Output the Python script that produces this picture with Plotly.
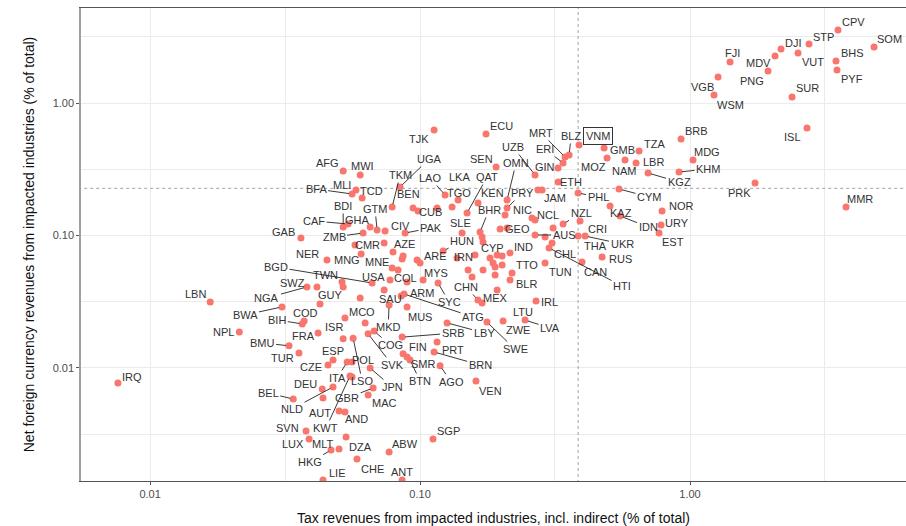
import numpy as np
import plotly.graph_objects as go

# ---- data: labelled countries ----
codes = ["CPV","STP","SOM","DJI","MDV","VUT","BHS","PYF","FJI","PNG","VGB","WSM","SUR","ISL","BRB","TZA","LBR","MDG","KHM","KGZ",
         "PRK","MMR","NOR","URY","EST","GMB","MOZ","NAM","VNM","BLZ","MRT","ERI","GIN","TJK","ECU","SEN","UZB","OMN","KEN","PRY",
         "NIC","BHR","QAT","LAO","LKA","TGO","UGA","TKM","BEN","CUB","MWI","AFG","MLI","BFA","TCD","GTM","GHA","CIV","BDI","CAF",
         "GAB","ZMB","PAK","SLE","CMR","AZE","HUN","ARE","IRN","CYP","IND","TTO","TUN","BLR","NCL","GEO","JAM","ETH","PHL","CYM",
         "KAZ","IDN","NZL","AUS","CRI","THA","UKR","CHL","RUS","CAN","HTI","USA","TWN","BGD","COL","MYS","SYC","ARM","CHN","MEX",
         "LTU","IRL","SAU","MKD","MUS","ATG","LVA","ZWE","SWE","LBY","SRB","MCO","COG","SVK","FIN","PRT","BRN","SMR","BTN","AGO",
         "VEN","POL","LSO","JPN","ITA","KWT","GBR","MAC","AND","DZA","CHE","SGP","ABW","ANT","LIE","HKG","MLT","LUX","SVN","AUT",
         "NLD","BEL","DEU","CZE","ESP","TUR","BMU","FRA","ISR","NPL","BIH","COD","GUY","BWA","LBN","NGA","SWZ","MNG","MNE","NER","IRQ"]

tax = [3.533,2.759,4.804,2.173,2.065,2.512,3.473,3.503,1.407,1.945,1.270,1.227,2.387,2.712,0.9262,0.6474,0.6310,1.026,0.9106,0.6990,
       1.741,3.783,0.7877,0.7810,0.7678,0.4804,0.4928,0.5745,0.3881,0.3565,0.3444,0.3386,0.3245,0.1127,0.1755,0.1912,0.2666,0.2100,0.1639,0.2100,
       0.2064,0.1668,0.1493,0.1238,0.1383,0.1314,0.0843,0.0788,0.0942,0.0983,0.0600,0.0519,0.0579,0.0560,0.0610,0.0693,0.0653,0.0742,0.0519,0.0541,
       0.0362,0.0615,0.0880,0.1431,0.0736,0.0794,0.1217,0.0975,0.1598,0.1711,0.2154,0.2191,0.2904,0.2154,0.2666,0.1979,0.2831,0.3245,0.3848,0.5458,
       0.5055,0.5505,0.3386,0.2666,0.3914,0.3848,0.4084,0.3083,0.4722,0.3981,0.3005,0.0736,0.0514,0.0664,0.0774,0.1026,0.1166,0.0895,0.1639,0.1697,
       0.1929,0.2689,0.0851,0.0768,0.0895,0.0872,0.2448,0.2030,0.1770,0.1259,0.0858,0.0527,0.0676,0.0642,0.0865,0.1156,0.1127,0.0895,0.0918,0.1186,
       0.1611,0.0560,0.0565,0.0653,0.0537,0.0550,0.0670,0.0642,0.0527,0.0532,0.0584,0.1117,0.0768,0.0858,0.0437,0.0468,0.0501,0.0388,0.0378,0.0501,
       0.0476,0.0339,0.0434,0.0456,0.0476,0.0356,0.0327,0.0419,0.0519,0.0214,0.0366,0.0372,0.0426,0.0308,0.0167,0.0381,0.0415,0.0605,0.0788,0.0452,0.0076]

fx = [3.555,2.788,2.646,2.556,2.263,2.385,2.075,1.775,2.039,1.744,1.571,1.149,1.110,0.6477,0.5351,0.4343,0.3525,0.3713,0.3014,0.2962,
      0.2490,0.1641,0.1531,0.1200,0.1044,0.4575,0.3845,0.3713,0.4819,0.4050,0.3913,0.3525,0.3232,0.6256,0.5834,0.3289,0.2862,0.1853,0.1759,0.1612,
      0.1428,0.1063,0.1478,0.2021,0.1853,0.1641,0.2323,0.1641,0.1612,0.1531,0.2862,0.3068,0.2205,0.2057,0.1919,0.1100,0.1159,0.1081,0.1159,0.1221,
      0.0957,0.1044,0.1044,0.1044,0.0878,0.0751,0.0764,0.0653,0.0713,0.0893,0.0738,0.0521,0.0620,0.0461,0.1309,0.1120,0.2205,0.2534,0.2093,0.2244,
      0.1670,0.1404,0.1221,0.1009,0.1286,0.0991,0.0991,0.0878,0.0688,0.0631,0.0805,0.0388,0.0446,0.0438,0.0461,0.0461,0.0438,0.0446,0.0326,0.0309,
      0.0388,0.0320,0.0349,0.0299,0.0289,0.0362,0.0230,0.0226,0.0222,0.0219,0.0171,0.0238,0.0190,0.0181,0.0128,0.0157,0.0132,0.0121,0.0115,0.0104,
      0.00798,0.0111,0.0168,0.0100,0.0111,0.00870,0.00706,0.00626,0.00465,0.00301,0.00206,0.00291,0.00232,0.00143,0.00143,0.00240,0.00245,0.00291,0.00334,0.00474,
      0.00719,0.00583,0.00694,0.01053,0.0115,0.0130,0.0147,0.0184,0.0166,0.0187,0.0215,0.0226,0.0304,0.0289,0.0315,0.0409,0.0409,0.0725,0.0568,0.0653,0.00771]

# ---- data: unlabelled countries ----
tax_unl = [0.1156,0.2598,0.2735,0.3110,0.2904,0.1697,0.1816,0.1929,0.2013,0.1864,0.2013,0.1896,0.1711,0.1506,0.1558,0.1896,
           0.1371,0.0858,0.0865,0.1000,0.0600,0.0574,0.0560,0.0437,0.2100,0.0519,0.0829,0.0626]
fx_unl = [0.1612,0.1355,0.2205,0.1139,0.0974,0.0974,0.0676,0.0713,0.0700,0.0620,0.0599,0.0578,0.0549,0.0549,0.0486,0.0503,
          0.0676,0.0665,0.0700,0.0620,0.0338,0.0848,0.00855,0.00594,0.1139,0.0409,0.0549,0.0219]

# ---- label placement (pixel offsets from point) and segment flags ----
lab_dx = [15,14,15,12,-17,15,16,15,2,-16,-16,16,15,-15,15,15,17,14,29,31,
          -16,14,19,16,14,18,-14,-1,19,2,-24,-18,-13,-15,15,-15,-22,9,14,15,
          17,9,20,-15,1,7,29,8,-5,12,2,-16,-14,-36,9,-2,-13,15,0,-34,
          -17,-29,26,-2,-17,11,19,18,-12,9,13,15,15,16,13,17,13,13,20,30,
          11,28,18,29,17,17,37,13,18,13,73,-11,-17,-96,15,13,11,15,-12,13,
          26,13,-11,-1,13,69,25,15,28,37,51,17,16,24,15,16,46,16,10,11,
          15,11,9,22,-10,-24,-26,16,12,14,15,15,16,0,14,-21,-17,-16,-19,-19,
          -41,-25,-17,-17,0,-16,-27,-15,-9,-16,-25,1,10,-37,-15,-40,-24,-14,-15,-19,14]
lab_dy = [-8,-7,-8,-6,7,9,-8,9,-9,10,10,10,-9,9,-8,-7,-1,-8,-3,9,
          10,-8,-5,-2,9,2,9,11,-9,-19,-24,-14,-1,9,-8,-8,-28,-37,-10,-15,
          -5,-22,-36,-17,-23,-14,-28,-32,-14,1,-9,-8,-5,-5,-7,-21,-7,-5,-21,-3,
          -6,4,-5,-10,2,-8,-10,-4,2,6,-6,-8,9,4,-5,0,8,0,4,8,
          7,11,-11,0,8,10,8,11,2,10,38,-13,-7,-16,-2,-7,19,11,-13,-5,
          22,1,3,22,10,23,8,9,27,10,-4,-6,14,31,-7,8,13,7,21,16,
          10,-2,43,19,16,52,10,8,7,10,10,-8,-8,-8,-7,12,-5,5,-3,2,
          22,-6,-5,2,-9,5,-3,3,-12,0,-4,-8,-9,8,-8,11,-4,6,-6,-6,-6]
seg_codes = {"KHM","KGZ","BLZ","MRT","ERI","UZB","OMN","PRY","BHR","QAT","LAO","UGA","TKM","BFA","GTM","BDI","CAF",
             "ZMB","PAK","HUN","PHL","CYM","IDN","NZL","AUS","UKR","HTI","TWN","BGD","SYC","CHN","LTU","MKD","ATG",
             "LVA","SWE","LBY","SRB","COG","SVK","BRN","BTN","AGO","LSO","JPN","ITA","KWT","GBR","HKG","NLD","BEL",
             "BMU","BIH","BWA","NGA"}
boxed = {"VNM"}

x_ticks = [0.01, 0.1, 1.0]
x_tick_text = ["0.01", "0.10", "1.00"]
y_ticks = [0.01, 0.1, 1.0]
y_tick_text = ["0.01", "0.10", "1.00"]
minor_vals = [0.00316, 0.0316, 0.316, 3.16]
x_threshold = 0.385
y_threshold = 0.227

RED = "#F8766D"
GRID = "#EBEBEB"

fig = go.Figure()

# threshold lines
fig.add_trace(go.Scatter(x=[x_threshold, x_threshold], y=[1e-4, 100], mode="lines",
                         line=dict(color="#A0A0A0", width=1, dash="3px,3px"), hoverinfo="skip", showlegend=False))
fig.add_trace(go.Scatter(x=[1e-4, 100], y=[y_threshold, y_threshold], mode="lines",
                         line=dict(color="#A0A0A0", width=1, dash="3px,3px"), hoverinfo="skip", showlegend=False))

fig.add_trace(go.Scatter(x=tax + tax_unl, y=fx + fx_unl, mode="markers",
                         marker=dict(color=RED, size=7, line=dict(width=0)),
                         showlegend=False, cliponaxis=True))

ann = []
for c, xv, yv, dx, dy in zip(codes, tax, fx, lab_dx, lab_dy):
    base = dict(x=np.log10(xv), y=np.log10(yv), xref="x", yref="y", text=c,
                font=dict(family="Liberation Sans, Arial, sans-serif", size=11, color="#333333"))
    if c in boxed:
        base.update(bordercolor="#333333", borderwidth=1, borderpad=2, bgcolor="white")
    if c in seg_codes:
        base.update(showarrow=True, ax=dx, ay=dy, axref="pixel", ayref="pixel",
                    arrowhead=0, arrowwidth=0.9, arrowcolor="#222222", standoff=3)
    else:
        base.update(showarrow=False, xshift=dx, yshift=-dy, xanchor="center", yanchor="middle")
    ann.append(base)

fig.update_layout(
    width=906, height=526,
    margin=dict(l=81, r=0, t=8, b=45, autoexpand=False),
    paper_bgcolor="white", plot_bgcolor="white",
    annotations=ann,
    font=dict(family="Liberation Sans, Arial, sans-serif"),
)
fig.update_xaxes(type="log", range=[-2.256, 0.80], tickvals=x_ticks, ticktext=x_tick_text,
                 showgrid=True, gridcolor=GRID, gridwidth=1.2, zeroline=False,
                 showline=True, linecolor="#555555", linewidth=1.2, mirror=True,
                 ticks="outside", ticklen=3, tickcolor="#555555",
                 tickfont=dict(size=11, color="#4D4D4D"),
                 minor=dict(tickvals=minor_vals, showgrid=True, gridcolor=GRID, gridwidth=1.2, ticks=""),
                 title=dict(text="Tax revenues from impacted industries, incl. indirect (% of total)",
                            font=dict(size=14, color="#111111"), standoff=14))
fig.update_yaxes(type="log", range=[-2.853, 0.717], tickvals=y_ticks, ticktext=y_tick_text,
                 showgrid=True, gridcolor=GRID, gridwidth=1.2, zeroline=False,
                 showline=True, linecolor="#A0A0A0", linewidth=1.5,
                 ticks="outside", ticklen=3, tickcolor="#555555",
                 tickfont=dict(size=11, color="#4D4D4D"),
                 minor=dict(tickvals=minor_vals, showgrid=True, gridcolor=GRID, gridwidth=1.2, ticks=""),
                 title=dict(text="Net foreign currency revenues from impacted industries (% of total)",
                            font=dict(size=14, color="#111111"), standoff=15))

fig.write_html("out.html", config={"displayModeBar": False},
               post_script="document.body.style.margin='0';document.body.style.overflow='hidden';")
